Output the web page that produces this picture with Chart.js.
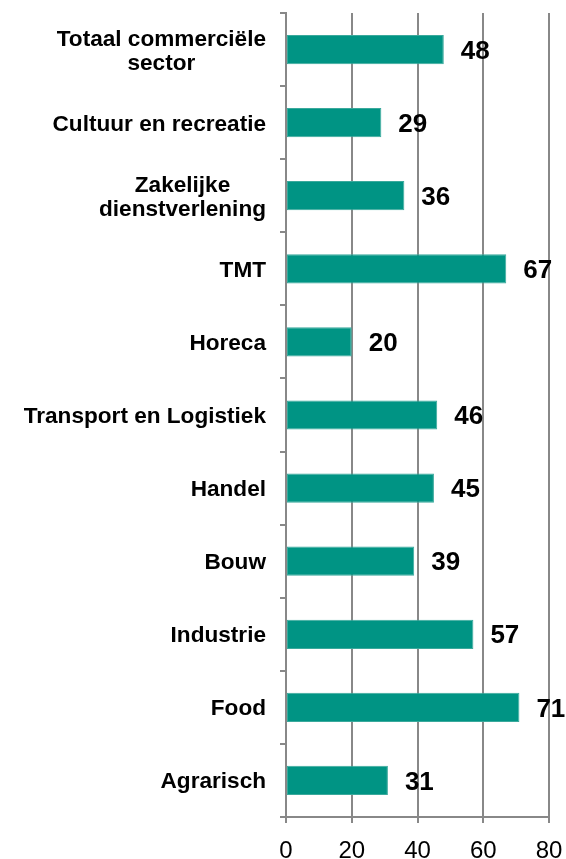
<!DOCTYPE html>
<html>
<head>
<meta charset="utf-8">
<script src="https://cdn.jsdelivr.net/npm/chart.js@4/dist/chart.umd.min.js"></script>
<style>
  html, body { margin: 0; padding: 0; background: #fff; }
  #wrap { width: 566px; height: 859px; }
</style>
</head>
<body>
<div id="wrap"><canvas id="sectorChart"></canvas></div>
<script>
const sectors = [
  ['Totaal commerciële', 'sector'],
  'Cultuur en recreatie',
  ['Zakelijke', 'dienstverlening'],
  'TMT',
  'Horeca',
  'Transport en Logistiek',
  'Handel',
  'Bouw',
  'Industrie',
  'Food',
  'Agrarisch'
];
const scores = [48, 29, 36, 67, 20, 46, 45, 39, 57, 71, 31];
const xTicks = [0, 20, 40, 60, 80];

const FONT = '"Liberation Sans", Arial, sans-serif';

// value labels to the right of each bar
const valueLabels = {
  id: 'valueLabels',
  afterDatasetsDraw(chart) {
    const ctx = chart.ctx;
    const meta = chart.getDatasetMeta(0);
    ctx.save();
    ctx.font = 'bold 26px ' + FONT;
    ctx.fillStyle = '#000';
    ctx.textAlign = 'left';
    ctx.textBaseline = 'middle';
    meta.data.forEach((bar, i) => {
      ctx.fillText(String(scores[i]), bar.x + 17, bar.y + 2);
    });
    ctx.restore();
  }
};

// axis labels: category block right aligned with lines centred, x ticks below
const axisLabels = {
  id: 'axisLabels',
  afterDraw(chart) {
    const ctx = chart.ctx;
    const y = chart.scales.y;
    const x = chart.scales.x;
    const right = y.right - 20;
    ctx.save();
    ctx.font = 'bold 22.6px ' + FONT;
    ctx.fillStyle = '#000';
    ctx.textAlign = 'center';
    ctx.textBaseline = 'alphabetic';
    sectors.forEach((lab, i) => {
      const lines = Array.isArray(lab) ? lab : [lab];
      const w = Math.max(...lines.map(l => ctx.measureText(l).width));
      const cx = right - w / 2;
      const cy = y.getPixelForValue(i);
      lines.forEach((l, j) => {
        const off = (j - (lines.length - 1) / 2) * 24;
        ctx.fillText(l, cx, cy + 8 + off);
      });
    });

    ctx.font = '24px ' + FONT;
    xTicks.forEach(v => {
      ctx.fillText(String(v), x.getPixelForValue(v), x.top + 41);
    });
    ctx.restore();
  }
};

new Chart(document.getElementById('sectorChart'), {
  type: 'bar',
  data: {
    labels: sectors,
    datasets: [{
      data: scores,
      backgroundColor: '#009484',
      borderColor: '#3aa99c',
      borderWidth: 1,
      borderSkipped: false,
      categoryPercentage: 1,
      barPercentage: 0.4
    }]
  },
  options: {
    indexAxis: 'y',
    responsive: true,
    maintainAspectRatio: false,
    animation: false,
    layout: { padding: { top: 13, right: 17, left: 0, bottom: 0 } },
    plugins: {
      legend: { display: false },
      tooltip: { enabled: false }
    },
    scales: {
      x: {
        min: xTicks[0],
        max: xTicks[xTicks.length - 1],
        afterBuildTicks: (s) => { s.ticks = xTicks.map(v => ({ value: v })); },
        afterFit: (s) => { s.height = 42; },
        border: { display: true, color: '#888', width: 2 },
        grid: { color: '#888', lineWidth: 2, drawTicks: true, tickLength: 6, tickColor: '#888' },
        ticks: { display: false }
      },
      y: {
        afterFit: (s) => { s.width = 286; },
        border: { display: true, color: '#888', width: 2 },
        grid: { drawOnChartArea: false, drawTicks: true, tickLength: 6, color: '#888', lineWidth: 2, offset: true },
        ticks: { display: false }
      }
    }
  },
  plugins: [valueLabels, axisLabels]
});
</script>
</body>
</html>
